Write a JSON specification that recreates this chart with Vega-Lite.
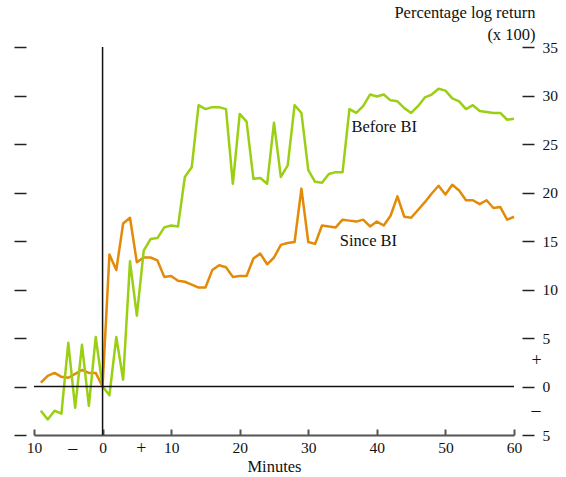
{
  "$schema": "https://vega.github.io/schema/vega-lite/v6.json",
  "autosize": {"type": "none"},
  "width": 480,
  "height": 388,
  "padding": {"left": 34, "top": 47, "right": 52, "bottom": 42},
  "background": "white",
  "config": {
    "view": {"stroke": null},
    "font": "Liberation Serif",
    "axis": {
      "grid": false,
      "labelFont": "Liberation Serif",
      "labelFontSize": 15.5,
      "labelColor": "#111",
      "titleFont": "Liberation Serif",
      "titleFontSize": 16.5,
      "titleFontWeight": "normal",
      "titleColor": "#111",
      "tickColor": "#222",
      "tickWidth": 1.5,
      "domainColor": "#555"
    }
  },
  "datasets": {
    "returns": [
      {"minute": -9, "series": "Since BI", "value": 0.4},
      {"minute": -8, "series": "Since BI", "value": 1.1},
      {"minute": -7, "series": "Since BI", "value": 1.4},
      {"minute": -6, "series": "Since BI", "value": 1.0},
      {"minute": -5, "series": "Since BI", "value": 0.9},
      {"minute": -4, "series": "Since BI", "value": 1.3},
      {"minute": -3, "series": "Since BI", "value": 1.7},
      {"minute": -2, "series": "Since BI", "value": 1.4},
      {"minute": -1, "series": "Since BI", "value": 1.4},
      {"minute": 0, "series": "Since BI", "value": 0.0},
      {"minute": 1, "series": "Since BI", "value": 13.6},
      {"minute": 2, "series": "Since BI", "value": 12.0},
      {"minute": 3, "series": "Since BI", "value": 16.8},
      {"minute": 4, "series": "Since BI", "value": 17.4},
      {"minute": 5, "series": "Since BI", "value": 12.8},
      {"minute": 6, "series": "Since BI", "value": 13.3},
      {"minute": 7, "series": "Since BI", "value": 13.3},
      {"minute": 8, "series": "Since BI", "value": 13.0},
      {"minute": 9, "series": "Since BI", "value": 11.3},
      {"minute": 10, "series": "Since BI", "value": 11.4},
      {"minute": 11, "series": "Since BI", "value": 10.9},
      {"minute": 12, "series": "Since BI", "value": 10.8},
      {"minute": 13, "series": "Since BI", "value": 10.5},
      {"minute": 14, "series": "Since BI", "value": 10.2},
      {"minute": 15, "series": "Since BI", "value": 10.2},
      {"minute": 16, "series": "Since BI", "value": 12.0},
      {"minute": 17, "series": "Since BI", "value": 12.5},
      {"minute": 18, "series": "Since BI", "value": 12.3},
      {"minute": 19, "series": "Since BI", "value": 11.3},
      {"minute": 20, "series": "Since BI", "value": 11.4},
      {"minute": 21, "series": "Since BI", "value": 11.4},
      {"minute": 22, "series": "Since BI", "value": 13.2},
      {"minute": 23, "series": "Since BI", "value": 13.7},
      {"minute": 24, "series": "Since BI", "value": 12.6},
      {"minute": 25, "series": "Since BI", "value": 13.3},
      {"minute": 26, "series": "Since BI", "value": 14.6},
      {"minute": 27, "series": "Since BI", "value": 14.8},
      {"minute": 28, "series": "Since BI", "value": 14.9},
      {"minute": 29, "series": "Since BI", "value": 20.4},
      {"minute": 30, "series": "Since BI", "value": 14.9},
      {"minute": 31, "series": "Since BI", "value": 14.7},
      {"minute": 32, "series": "Since BI", "value": 16.6},
      {"minute": 33, "series": "Since BI", "value": 16.5},
      {"minute": 34, "series": "Since BI", "value": 16.4},
      {"minute": 35, "series": "Since BI", "value": 17.2},
      {"minute": 36, "series": "Since BI", "value": 17.1},
      {"minute": 37, "series": "Since BI", "value": 17.0},
      {"minute": 38, "series": "Since BI", "value": 17.2},
      {"minute": 39, "series": "Since BI", "value": 16.5},
      {"minute": 40, "series": "Since BI", "value": 17.0},
      {"minute": 41, "series": "Since BI", "value": 16.6},
      {"minute": 42, "series": "Since BI", "value": 17.6},
      {"minute": 43, "series": "Since BI", "value": 19.6},
      {"minute": 44, "series": "Since BI", "value": 17.5},
      {"minute": 45, "series": "Since BI", "value": 17.4},
      {"minute": 46, "series": "Since BI", "value": 18.2},
      {"minute": 47, "series": "Since BI", "value": 19.0},
      {"minute": 48, "series": "Since BI", "value": 19.9},
      {"minute": 49, "series": "Since BI", "value": 20.7},
      {"minute": 50, "series": "Since BI", "value": 19.8},
      {"minute": 51, "series": "Since BI", "value": 20.8},
      {"minute": 52, "series": "Since BI", "value": 20.2},
      {"minute": 53, "series": "Since BI", "value": 19.2},
      {"minute": 54, "series": "Since BI", "value": 19.2},
      {"minute": 55, "series": "Since BI", "value": 18.8},
      {"minute": 56, "series": "Since BI", "value": 19.2},
      {"minute": 57, "series": "Since BI", "value": 18.4},
      {"minute": 58, "series": "Since BI", "value": 18.5},
      {"minute": 59, "series": "Since BI", "value": 17.2},
      {"minute": 60, "series": "Since BI", "value": 17.5},
      {"minute": -9, "series": "Before BI", "value": -2.5},
      {"minute": -8, "series": "Before BI", "value": -3.4},
      {"minute": -7, "series": "Before BI", "value": -2.5},
      {"minute": -6, "series": "Before BI", "value": -2.8},
      {"minute": -5, "series": "Before BI", "value": 4.5},
      {"minute": -4, "series": "Before BI", "value": -2.2},
      {"minute": -3, "series": "Before BI", "value": 4.3},
      {"minute": -2, "series": "Before BI", "value": -2.0},
      {"minute": -1, "series": "Before BI", "value": 5.1},
      {"minute": 0, "series": "Before BI", "value": 0.0},
      {"minute": 1, "series": "Before BI", "value": -0.9},
      {"minute": 2, "series": "Before BI", "value": 5.1},
      {"minute": 3, "series": "Before BI", "value": 0.7},
      {"minute": 4, "series": "Before BI", "value": 12.9},
      {"minute": 5, "series": "Before BI", "value": 7.3},
      {"minute": 6, "series": "Before BI", "value": 14.0},
      {"minute": 7, "series": "Before BI", "value": 15.2},
      {"minute": 8, "series": "Before BI", "value": 15.3},
      {"minute": 9, "series": "Before BI", "value": 16.4},
      {"minute": 10, "series": "Before BI", "value": 16.6},
      {"minute": 11, "series": "Before BI", "value": 16.5},
      {"minute": 12, "series": "Before BI", "value": 21.6},
      {"minute": 13, "series": "Before BI", "value": 22.6},
      {"minute": 14, "series": "Before BI", "value": 29.0},
      {"minute": 15, "series": "Before BI", "value": 28.6},
      {"minute": 16, "series": "Before BI", "value": 28.8},
      {"minute": 17, "series": "Before BI", "value": 28.8},
      {"minute": 18, "series": "Before BI", "value": 28.6},
      {"minute": 19, "series": "Before BI", "value": 20.9},
      {"minute": 20, "series": "Before BI", "value": 28.1},
      {"minute": 21, "series": "Before BI", "value": 27.3},
      {"minute": 22, "series": "Before BI", "value": 21.4},
      {"minute": 23, "series": "Before BI", "value": 21.5},
      {"minute": 24, "series": "Before BI", "value": 20.9},
      {"minute": 25, "series": "Before BI", "value": 27.2},
      {"minute": 26, "series": "Before BI", "value": 21.6},
      {"minute": 27, "series": "Before BI", "value": 22.8},
      {"minute": 28, "series": "Before BI", "value": 29.0},
      {"minute": 29, "series": "Before BI", "value": 28.2},
      {"minute": 30, "series": "Before BI", "value": 22.3},
      {"minute": 31, "series": "Before BI", "value": 21.1},
      {"minute": 32, "series": "Before BI", "value": 21.0},
      {"minute": 33, "series": "Before BI", "value": 21.9},
      {"minute": 34, "series": "Before BI", "value": 22.1},
      {"minute": 35, "series": "Before BI", "value": 22.1},
      {"minute": 36, "series": "Before BI", "value": 28.6},
      {"minute": 37, "series": "Before BI", "value": 28.2},
      {"minute": 38, "series": "Before BI", "value": 28.9},
      {"minute": 39, "series": "Before BI", "value": 30.1},
      {"minute": 40, "series": "Before BI", "value": 29.9},
      {"minute": 41, "series": "Before BI", "value": 30.1},
      {"minute": 42, "series": "Before BI", "value": 29.5},
      {"minute": 43, "series": "Before BI", "value": 29.4},
      {"minute": 44, "series": "Before BI", "value": 28.7},
      {"minute": 45, "series": "Before BI", "value": 28.2},
      {"minute": 46, "series": "Before BI", "value": 28.9},
      {"minute": 47, "series": "Before BI", "value": 29.8},
      {"minute": 48, "series": "Before BI", "value": 30.1},
      {"minute": 49, "series": "Before BI", "value": 30.7},
      {"minute": 50, "series": "Before BI", "value": 30.5},
      {"minute": 51, "series": "Before BI", "value": 29.7},
      {"minute": 52, "series": "Before BI", "value": 29.4},
      {"minute": 53, "series": "Before BI", "value": 28.6},
      {"minute": 54, "series": "Before BI", "value": 29.0},
      {"minute": 55, "series": "Before BI", "value": 28.4},
      {"minute": 56, "series": "Before BI", "value": 28.3},
      {"minute": 57, "series": "Before BI", "value": 28.2},
      {"minute": 58, "series": "Before BI", "value": 28.2},
      {"minute": 59, "series": "Before BI", "value": 27.5},
      {"minute": 60, "series": "Before BI", "value": 27.6}
    ],
    "labels": [
      {"label": "Before BI", "minute": 36.3, "value": 26.2},
      {"label": "Since BI", "minute": 34.6, "value": 14.5}
    ],
    "origin": [
      {"minute": 0, "value": 0}
    ]
  },
  "resolve": {"axis": {"x": "independent", "y": "independent"}},
  "layer": [
    {
      "data": {"name": "returns"},
      "mark": {"type": "line", "strokeWidth": 2.5, "strokeJoin": "round"},
      "encoding": {
        "x": {
          "field": "minute",
          "type": "quantitative",
          "scale": {"domain": [-10, 60], "nice": false, "zero": false},
          "axis": {
            "orient": "bottom",
            "values": [-10, -5, 0, 5, 10, 20, 30, 40, 50, 60],
            "ticks": false,
            "domain": true,
            "domainWidth": 2,
            "labelPadding": {"condition": {"test": "abs(datum.value) == 5", "value": 4}, "value": 5},
            "labelExpr": "datum.value == -5 ? '–' : datum.value == 5 ? '+' : format(abs(datum.value), 'd')",
            "labelOffset": {"condition": {"test": "abs(datum.value) == 5", "value": 4}, "value": 0},
            "labelFontSize": {"condition": {"test": "abs(datum.value) == 5", "value": 18}, "value": 15.5},
            "labelFlush": false,
            "title": "Minutes",
            "titlePadding": 1
          }
        },
        "y": {
          "field": "value",
          "type": "quantitative",
          "scale": {"domain": [-5, 35], "nice": false, "zero": false},
          "axis": {
            "orient": "right",
            "offset": 8,
            "values": [-5, -2.5, 0, 2.5, 5, 10, 15, 20, 25, 30, 35],
            "tickSize": 12,
            "domain": false,
            "tickOpacity": {"condition": {"test": "abs(datum.value) == 2.5", "value": 0}, "value": 1},
            "labelPadding": {"condition": {"test": "abs(datum.value) == 2.5", "value": -3}, "value": 8},
            "labelFontSize": {"condition": {"test": "abs(datum.value) == 2.5", "value": 18}, "value": 15.5},
            "labelOffset": {"condition": {"test": "datum.value == 2.5", "value": -1.5}, "value": 0},
            "labelExpr": "datum.value == 2.5 ? '+' : datum.value == -2.5 ? '–' : format(abs(datum.value), 'd')",
            "labelFlush": false,
            "title": ["Percentage log return", "(x 100)"],
            "titleAngle": 0,
            "titleAlign": "right",
            "titleBaseline": "alphabetic",
            "titleX": 13,
            "titleY": -29.5,
            "titleLineHeight": 22
          }
        },
        "color": {
          "field": "series",
          "type": "nominal",
          "scale": {"domain": ["Since BI", "Before BI"], "range": ["#E38A08", "#9BCF14"]},
          "legend": null
        }
      }
    },
    {
      "data": {"name": "origin"},
      "mark": {"type": "rule", "color": "#111", "strokeWidth": 1.5},
      "encoding": {
        "x": {
          "field": "minute",
          "type": "quantitative",
          "axis": {
            "orient": "bottom",
            "values": [-10, 0, 10, 20, 30, 40, 50, 60],
            "labels": false,
            "domain": false,
            "tickSize": -6,
            "tickColor": "#555",
            "tickWidth": 2,
            "title": null
          }
        }
      }
    },
    {
      "data": {"name": "origin"},
      "mark": {"type": "rule", "color": "#111", "strokeWidth": 1.5},
      "encoding": {
        "y": {
          "field": "value",
          "type": "quantitative",
          "axis": {
            "orient": "left",
            "offset": 8,
            "values": [-5, 0, 5, 10, 15, 20, 25, 30, 35],
            "labels": false,
            "domain": false,
            "tickSize": 12,
            "title": null
          }
        }
      }
    },
    {
      "data": {"name": "labels"},
      "mark": {"type": "text", "align": "left", "baseline": "alphabetic", "fontSize": 16.5, "font": "Liberation Serif", "color": "#111"},
      "encoding": {
        "x": {"field": "minute", "type": "quantitative", "axis": null},
        "y": {"field": "value", "type": "quantitative", "axis": null},
        "text": {"field": "label"}
      }
    }
  ]
}
